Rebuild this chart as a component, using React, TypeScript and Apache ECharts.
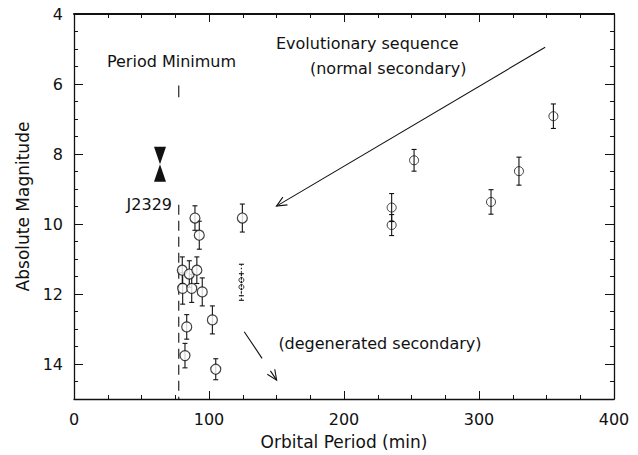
import React, { useEffect, useRef } from "react";
import * as echarts from "echarts";

// Short-period systems (near the period minimum)
const shortPeriod = [89.6, 92.8, 80.2, 85.4, 91.0, 80.5, 87.2, 95.0, 83.5, 102.5, 82.2, 105.0, 124.7];
const shortMag = [9.83, 10.32, 11.32, 11.43, 11.32, 11.84, 11.84, 11.94, 12.94, 12.74, 13.76, 14.15, 9.83];
const shortErr = [0.35, 0.4, 0.38, 0.38, 0.38, 0.45, 0.4, 0.4, 0.35, 0.4, 0.35, 0.3, 0.4];

// Long-period systems
const longPeriod = [235.3, 235.3, 251.9, 308.9, 329.6, 355.1];
const longMag = [9.53, 10.03, 8.18, 9.37, 8.49, 6.92];
const longErr = [0.4, 0.3, 0.31, 0.35, 0.4, 0.35];

// Uncertain systems (dotted error bars)
const uncPeriod = [124.0, 124.0];
const uncMag = [11.6, 11.8];
const uncErr = [0.45, 0.38];

// J2329
const j2329 = { period: 63.7, mag: 8.29, halfRange: 0.5, label: "J2329" };

// Period minimum
const periodMin = 77.6;
const periodMinTick = [6.04, 6.38];
const periodMinDashed = [9.45, 15];

// Arrows: [x0, mag0, x1, mag1, dashed]
const arrows = [
  [349, 4.95, 150, 9.49, 0],
  [126.1, 13.08, 150.1, 14.46, 1],
];

// Annotations
const annoText = ["Period Minimum", "Evolutionary sequence", "(normal secondary)", "(degenerated secondary)"];
const annoPos = [
  [24.4, 5.36],
  [149.6, 4.85],
  [174.8, 5.56],
  [151.4, 13.41],
];

const xTicks = { min: 0, max: 400, interval: 100 };
const yTicks = { min: 4, max: 15, interval: 2 };

const FONT = "DejaVu Sans";
const INK = "#111";

export default function App() {
  const ref = useRef<HTMLDivElement>(null);
  useEffect(() => {
    if (!ref.current) return;
    const chart = echarts.init(ref.current, null, { renderer: "svg" });

    const errRender = (dotted: boolean) => (params: any, api: any) => {
      const x = api.value(0);
      const m = api.value(1);
      const e = api.value(2);
      const p0 = api.coord([x, m - e]);
      const p1 = api.coord([x, m + e]);
      const cap = 2.5;
      const style = { stroke: INK, lineWidth: 1.1, lineDash: dotted ? [1.5, 2] : null };
      return {
        type: "group",
        children: [
          { type: "line", shape: { x1: p0[0], y1: p0[1], x2: p1[0], y2: p1[1] }, style },
          { type: "line", shape: { x1: p0[0] - cap, y1: p0[1], x2: p0[0] + cap, y2: p0[1] }, style: { stroke: INK, lineWidth: 1.1 } },
          { type: "line", shape: { x1: p1[0] - cap, y1: p1[1], x2: p1[0] + cap, y2: p1[1] }, style: { stroke: INK, lineWidth: 1.1 } },
        ],
      };
    };

    const axisCommon = {
      axisLine: { show: true, onZero: false, lineStyle: { color: INK, width: 1.3 } },
      splitLine: { show: false },
    };

    const option: any = {
      animation: false,
      backgroundColor: "#fff",
      grid: { left: 74, right: 24, top: 14, bottom: 56, containLabel: false },
      xAxis: [
        {
          type: "value",
          position: "bottom",
          min: xTicks.min,
          max: xTicks.max,
          interval: xTicks.interval,
          ...axisCommon,
          axisTick: { show: true, inside: true, length: 8, lineStyle: { color: INK, width: 1 } },
          minorTick: { show: true, splitNumber: 4, length: 4, lineStyle: { color: INK, width: 1 } },
          axisLabel: { color: INK, fontSize: 16, fontFamily: FONT, margin: 12 },
          name: "Orbital Period (min)",
          nameLocation: "middle",
          nameGap: 34,
          nameTextStyle: { color: INK, fontSize: 17, fontFamily: FONT },
        },
        {
          type: "value",
          position: "top",
          min: xTicks.min,
          max: xTicks.max,
          interval: xTicks.interval,
          axisLine: { show: true, onZero: false, lineStyle: { color: INK, width: 2 } },
          splitLine: { show: false },
          axisTick: { show: true, inside: true, length: 8, lineStyle: { color: INK, width: 1 } },
          minorTick: { show: true, splitNumber: 4, length: 4, lineStyle: { color: INK, width: 1 } },
          axisLabel: { show: false },
        },
      ],
      yAxis: [
        {
          type: "value",
          position: "left",
          inverse: true,
          min: yTicks.min,
          max: yTicks.max,
          interval: yTicks.interval,
          ...axisCommon,
          axisTick: { show: true, inside: true, length: 9, lineStyle: { color: INK, width: 1 } },
          minorTick: { show: true, splitNumber: 4, length: 4, lineStyle: { color: INK, width: 1 } },
          axisLabel: { color: INK, fontSize: 16, fontFamily: FONT, margin: 11, showMaxLabel: false },
          name: "Absolute Magnitude",
          nameLocation: "middle",
          nameGap: 31,
          nameTextStyle: { color: INK, fontSize: 17, fontFamily: FONT },
        },
        {
          type: "value",
          position: "right",
          inverse: true,
          min: yTicks.min,
          max: yTicks.max,
          interval: yTicks.interval,
          ...axisCommon,
          axisTick: { show: true, inside: true, length: 9, lineStyle: { color: INK, width: 1 } },
          minorTick: { show: true, splitNumber: 4, length: 4, lineStyle: { color: INK, width: 1 } },
          axisLabel: { show: false },
        },
      ],
      series: [
        {
          type: "custom",
          name: "err-short",
          renderItem: errRender(false),
          data: shortPeriod.map((x, i) => [x, shortMag[i], shortErr[i]]),
          z: 2,
        },
        {
          type: "custom",
          name: "err-long",
          renderItem: errRender(false),
          data: longPeriod.map((x, i) => [x, longMag[i], longErr[i]]),
          z: 2,
        },
        {
          type: "custom",
          name: "err-unc",
          renderItem: errRender(true),
          data: uncPeriod.map((x, i) => [x, uncMag[i], uncErr[i]]),
          z: 2,
        },
        {
          type: "scatter",
          name: "short",
          symbol: "circle",
          symbolSize: 10,
          itemStyle: { color: "#fff", borderColor: INK, borderWidth: 1.2 },
          data: shortPeriod.map((x, i) => [x, shortMag[i]]),
          z: 3,
        },
        {
          type: "scatter",
          name: "long",
          symbol: "circle",
          symbolSize: 9,
          itemStyle: { color: "rgba(0,0,0,0)", borderColor: INK, borderWidth: 1 },
          data: longPeriod.map((x, i) => [x, longMag[i]]),
          z: 3,
        },
        {
          type: "scatter",
          name: "uncertain",
          symbol: "circle",
          symbolSize: 5,
          itemStyle: { color: "rgba(0,0,0,0)", borderColor: INK, borderWidth: 1 },
          data: uncPeriod.map((x, i) => [x, uncMag[i]]),
          z: 3,
        },
        {
          type: "custom",
          name: "J2329",
          clip: false,
          data: [[j2329.period, j2329.mag, j2329.halfRange]],
          renderItem: (params: any, api: any) => {
            const x = api.value(0);
            const m = api.value(1);
            const h = api.value(2);
            const c = api.coord([x, m]);
            const t = api.coord([x, m - h]);
            const b = api.coord([x, m + h]);
            const w = 6;
            return {
              type: "group",
              children: [
                { type: "polygon", shape: { points: [[c[0] - w, t[1]], [c[0] + w, t[1]], [c[0], c[1]]] }, style: { fill: INK } },
                { type: "polygon", shape: { points: [[c[0] - w, b[1]], [c[0] + w, b[1]], [c[0], c[1]]] }, style: { fill: INK } },
                {
                  type: "text",
                  style: { text: j2329.label, x: c[0] + 12, y: b[1] + 23, fill: INK, fontSize: 16, fontFamily: FONT, align: "right", verticalAlign: "middle" },
                },
              ],
            };
          },
        },
        {
          type: "custom",
          name: "periodMin",
          data: [[periodMin, periodMinTick[0], periodMinTick[1], periodMinDashed[0], periodMinDashed[1]]],
          renderItem: (params: any, api: any) => {
            const x = api.value(0);
            const a0 = api.coord([x, api.value(1)]);
            const a1 = api.coord([x, api.value(2)]);
            const b0 = api.coord([x, api.value(3)]);
            const b1 = api.coord([x, api.value(4)]);
            return {
              type: "group",
              children: [
                { type: "line", shape: { x1: a0[0], y1: a0[1], x2: a1[0], y2: a1[1] }, style: { stroke: INK, lineWidth: 1.1 } },
                { type: "line", shape: { x1: b0[0], y1: b0[1], x2: b1[0], y2: b1[1] }, style: { stroke: INK, lineWidth: 1.1, lineDash: [10, 6] } },
              ],
            };
          },
        },
        {
          type: "custom",
          name: "arrows",
          clip: false,
          data: arrows,
          renderItem: (params: any, api: any) => {
            const p0 = api.coord([api.value(0), api.value(1)]);
            const p1 = api.coord([api.value(2), api.value(3)]);
            const dashed = api.value(4) === 1;
            const ang = Math.atan2(p1[1] - p0[1], p1[0] - p0[0]);
            const L = 11;
            const spread = 0.42;
            const h1 = [p1[0] - L * Math.cos(ang - spread), p1[1] - L * Math.sin(ang - spread)];
            const h2 = [p1[0] - L * Math.cos(ang + spread), p1[1] - L * Math.sin(ang + spread)];
            return {
              type: "group",
              children: [
                { type: "line", shape: { x1: p0[0], y1: p0[1], x2: p1[0], y2: p1[1] }, style: { stroke: INK, lineWidth: 1.1, lineDash: dashed ? [32, 15] : null } },
                { type: "polyline", shape: { points: [h1, p1, h2] }, style: { stroke: INK, lineWidth: 1.1, fill: null } },
              ],
            };
          },
        },
        {
          type: "custom",
          name: "annotations",
          clip: false,
          xAxisIndex: 1,
          yAxisIndex: 1,
          data: annoPos,
          renderItem: (params: any, api: any) => {
            const p = api.coord([api.value(0), api.value(1)]);
            return {
              type: "text",
              style: { text: annoText[params.dataIndex], x: p[0], y: p[1], fill: INK, fontSize: 16, fontFamily: FONT, align: "left", verticalAlign: "middle" },
            };
          },
        },
      ],
    };
    chart.setOption(option);
    return () => chart.dispose();
  }, []);
  return <div ref={ref} style={{ position: "fixed", left: 0, top: 0, width: 638, height: 455, background: "#fff" }} />;
}
